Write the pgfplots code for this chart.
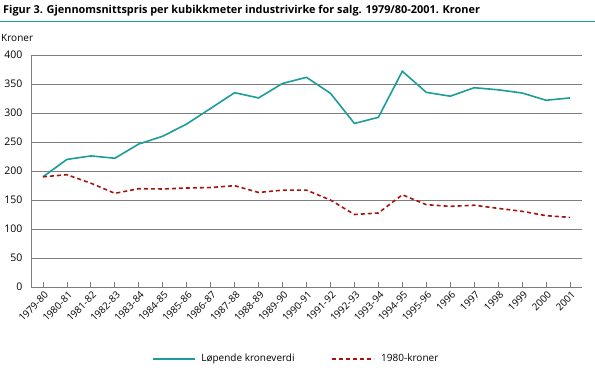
\documentclass[border=0pt]{standalone}
\usepackage{fontspec}
\setmainfont{Open Sans}
\usepackage{pgfplots}
\pgfplotsset{compat=1.18}
\definecolor{teal1}{RGB}{28,156,154}
\definecolor{dred}{RGB}{165,20,15}
\definecolor{gridg}{RGB}{125,125,125}
\begin{document}
\begin{tikzpicture}
\useasboundingbox (0,0) rectangle (595pt,373pt);
\node[anchor=west,inner sep=0pt,font=\fontsize{10.9}{13}\selectfont\bfseries] at (3pt,362pt) {Figur 3. Gjennomsnittspris per kubikkmeter industrivirke for salg. 1979/80-2001. Kroner};
\draw[teal1,line width=1pt] (0pt,351pt) -- (595pt,351pt);
\node[anchor=west,inner sep=0pt,font=\fontsize{10}{12}\selectfont] at (1pt,335pt) {Kroner};
\begin{axis}[
  at={(31pt,86pt)}, anchor=south west,
  scale only axis, width=551pt, height=232pt,
  xmin=-0.5, xmax=22.5, ymin=0, ymax=400,
  axis x line*=bottom, axis y line*=left,
  axis line style={gridg, line width=0.8pt},
  xtick={0,...,22},
  xticklabels={1979-80,1980-81,1981-82,1982-83,1983-84,1984-85,1985-86,1986-87,1987-88,1988-89,1989-90,1990-91,1991-92,1992-93,1993-94,1994-95,1995-96,1996,1997,1998,1999,2000,2001},
  xticklabel style={rotate=45, anchor=east, font=\fontsize{9.8}{11}\selectfont, inner sep=1pt, xshift=-1pt, yshift=-7pt},
  ytick={0,50,...,400},
  yticklabel style={font=\fontsize{10.5}{12}\selectfont, xshift=-5pt},
  /pgf/number format/assume math mode=true,
  ytick style={draw=none},
  tick align=inside, major tick length=5pt,
  xtick style={gridg, line width=0.8pt},
  ymajorgrids, grid style={gridg, line width=0.8pt},
  legend columns=2,
  legend style={at={(0.481,-0.31)}, anchor=center, draw=none, fill=none, font=\fontsize{10}{12}\selectfont,
    /tikz/every even column/.append style={column sep=35pt},
    /tikz/every odd column/.append style={column sep=4pt}},
  legend image code/.code={\draw[#1] (0pt,0pt) -- (42pt,0pt);},
]
\addplot[teal1, line width=1.6pt] coordinates {
(0,190) (1,220) (2,226) (3,222) (4,246.5) (5,260) (6,281) (7,308) (8,335) (9,326) (10,351) (11,361.5)
(12,334) (13,282) (14,292.5) (15,372) (16,335.6) (17,329) (18,343.6) (19,340) (20,334.5) (21,322) (22,326)};
\addlegendentry{Løpende kroneverdi}
\addplot[dred, line width=1.6pt, dash pattern=on 4pt off 3pt] coordinates {
(0,190) (1,193.6) (2,179) (3,161.5) (4,169.5) (5,169) (6,170.7) (7,171.5) (8,174.7) (9,163) (10,167) (11,167)
(12,150) (13,125) (14,127.6) (15,159) (16,142) (17,139) (18,141) (19,135.6) (20,130.5) (21,123) (22,120)};
\addlegendentry{1980-kroner}
\end{axis}
\end{tikzpicture}
\end{document}
